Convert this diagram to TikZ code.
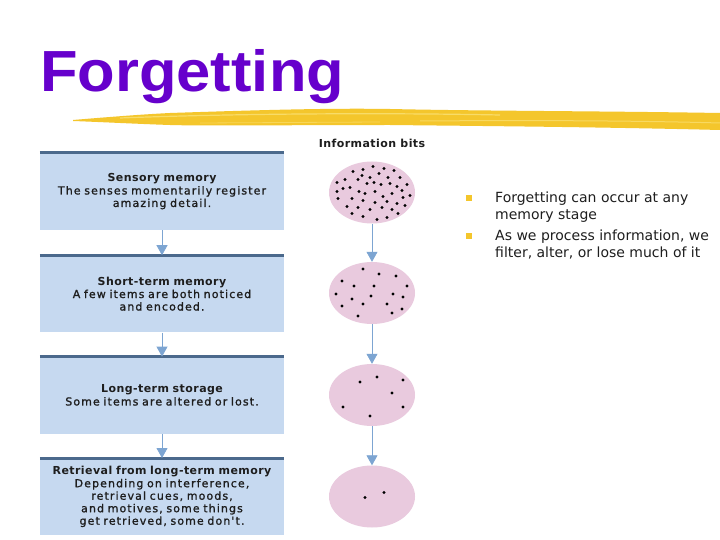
\documentclass[tikz,border=0pt]{standalone}
\usepackage{fontspec}
\setmainfont{DejaVu Sans}
\newfontfamily\titlefont{Liberation Sans}
\newfontfamily\headfont{DejaVu Sans Bold}[LetterSpace=4]
\newfontfamily\bodyfont{DejaVu Sans}[FakeBold=1.2,LetterSpace=10]
\usetikzlibrary{arrows.meta,shapes,positioning,calc}
\definecolor{fgpurple}{RGB}{102,0,204}
\definecolor{fgboxfill}{RGB}{198,217,240}
\definecolor{fgboxline}{RGB}{75,105,140}
\definecolor{fgarrow}{RGB}{125,165,210}
\definecolor{fgpink}{RGB}{233,202,222}
\definecolor{fggold}{RGB}{244,198,44}
\definecolor{fglightgold}{RGB}{250,226,120}
\definecolor{fgtext}{RGB}{30,30,30}
\tikzstyle{flowarrow} = [thick,color=fgarrow,-{Triangle[width=11pt,length=10pt]}]
\tikzstyle{stagebox} = [rectangle, minimum width=244pt, minimum height=77pt, text width=240pt, align=center, fill=fgboxfill, inner sep=0pt, text=fgtext, font=\bodyfont\fontsize{11}{12.5}\selectfont]
\tikzstyle{boxtop} = [line width=3pt, color=fgboxline]
\tikzstyle{bitcloud} = [ellipse, minimum width=86pt, minimum height=62pt, inner sep=0pt, fill=fgpink]
\tikzstyle{bulletsq} = [rectangle, minimum size=5.5pt, inner sep=0pt, fill=fggold]
\tikzstyle{pointtext} = [anchor=north west, inner sep=0pt, align=left, text=fgtext, font=\fontsize{14}{17}\selectfont]
\newcommand{\stagehead}[1]{{\headfont #1}}

\begin{document}
\begin{tikzpicture}[x=1pt,y=-1pt]
\useasboundingbox[fill=white] (0,0) rectangle (720,540);
% title and brush stroke
\fill[fggold] (73,120) .. controls (120,116) and (150,114) .. (170,113)
  .. controls (260,110) and (330,108) .. (390,109)
  .. controls (480,111) and (600,111) .. (720,113) -- (720,130)
  .. controls (600,127) and (480,126) .. (390,125)
  .. controls (300,125) and (200,126) .. (170,125)
  .. controls (140,124) and (100,122) .. (73,121) -- cycle;
\draw[fglightgold, line width=1.2pt, opacity=.8] (120,118) .. controls (250,113) and (400,113) .. (500,115);
\draw[fglightgold, line width=1pt, opacity=.7] (420,121) .. controls (550,120) and (650,121) .. (720,123);
\draw[fglightgold, line width=.8pt, opacity=.6] (200,123) -- (380,122);
\node[anchor=base west, inner sep=0pt, text=fgpurple, font=\titlefont\bfseries\fontsize{58}{58}\selectfont] (title) at (40,92) {\scalebox{1.06}[1]{Forgetting}};

% memory stages
\node[stagebox] (sensory) at (162,191.5) {\stagehead{Sensory memory}\\The senses momentarily register\\amazing detail.};
\node[stagebox, below=25pt of sensory] (short) {\stagehead{Short-term memory}\\A few items are both noticed\\and encoded.};
\node[stagebox, below=24pt of short] (longterm) {\stagehead{Long-term storage}\\Some items are altered or lost.};
\node[stagebox, below=24pt of longterm] (retrieval) {\stagehead{Retrieval from long-term memory}\\Depending on interference,\\retrieval cues, moods,\\and motives, some things\\get retrieved, some don't.};
\foreach \b in {sensory,short,longterm,retrieval}
  \draw[boxtop] (\b.north west) -- (\b.north east);
\draw[flowarrow] (sensory) -- (short);
\draw[flowarrow] (short) -- (longterm);
\draw[flowarrow] (longterm) -- (retrieval);

% information bits
\node[font=\headfont\fontsize{11}{12}\selectfont, text=fgtext] (bitslabel) at (372,143) {Information bits};
\node[bitcloud] (all) at (372,192.5) {};
\node[bitcloud] (noticed) at (372,293) {};
\node[bitcloud] (stored) at (372,395) {};
\node[bitcloud] (kept) at (372,496.5) {};
\draw[flowarrow] (all) -- (noticed);
\draw[flowarrow] (noticed) -- (stored);
\draw[flowarrow] (stored) -- (kept);
\foreach \dx/\dy in {-19/-21,-9/-23,1/-26,12/-24,22/-22,-27/-13,-14/-13,-10/-17,-2/-15,7/-19,16/-15,28/-15,
  -35/-10,-22/-5,-13/-1,-5/-9,2/-10,9/-8,18/-9,25/-6,35/-8,-35/-1,-29/-4,-7/1,3/-1,11/4,20/1,30/-2,38/3,
  -34/6,-20/6,-9/8,3/10,15/9,25/11,31/5,-25/14,-14/15,-2/17,10/15,20/17,33/13,-20/21,-9/24,5/27,15/25,26/21}
  \fill ($(all)+(\dx,\dy)$) circle (1.6);
\foreach \dx/\dy in {-9/-24,7/-19,24/-17,-30/-12,-18/-7,2/-7,35/-7,-36/1,-1/3,21/1,-20/6,31/4,-30/13,-9/11,15/11,30/16,-14/23,20/20}
  \fill ($(noticed)+(\dx,\dy)$) circle (1.6);
\foreach \dx/\dy in {-12/-13,5/-18,31/-15,20/-2,-29/12,31/12,-2/21}
  \fill ($(stored)+(\dx,\dy)$) circle (1.6);
\foreach \dx/\dy in {-7/1,12/-4}
  \fill ($(kept)+(\dx,\dy)$) circle (1.6);

% bullet points
\node[bulletsq] (sq1) at (469,198) {};
\node[bulletsq] (sq2) at (469,236) {};
\node[pointtext] (pt1) at (495,192) {Forgetting can occur at any\\memory stage};
\node[pointtext] (pt2) at (495,230) {As we process information, we\\filter, alter, or lose much of it};
\end{tikzpicture}
\end{document}
